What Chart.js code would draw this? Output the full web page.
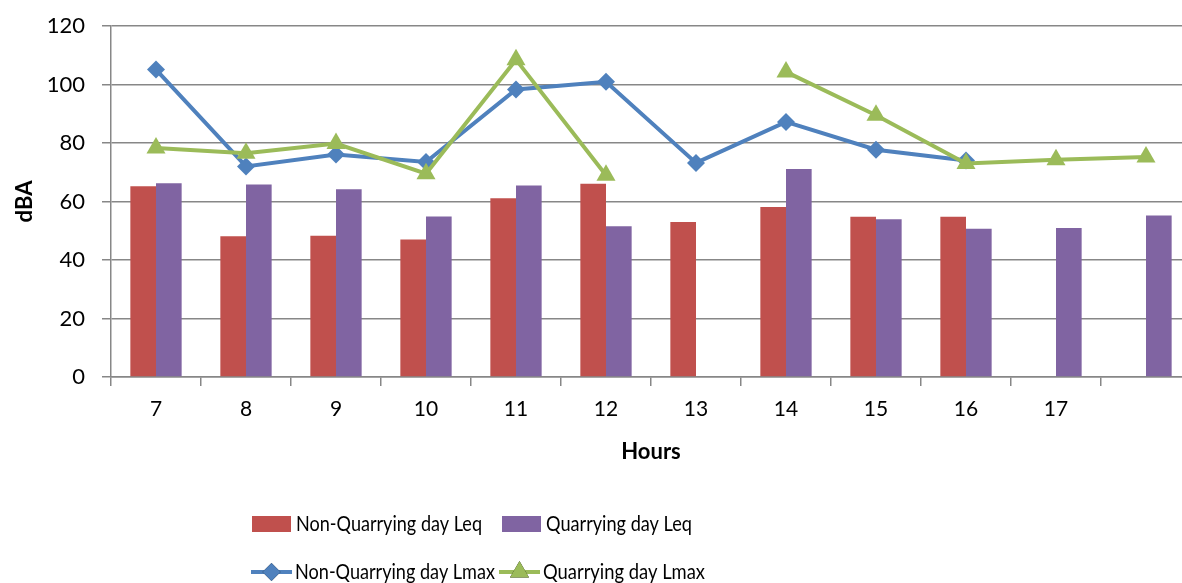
<!DOCTYPE html>
<html>
<head>
<meta charset="utf-8">
<script src="https://cdn.jsdelivr.net/npm/chart.js@4"></script>
<style>
  html, body { margin: 0; padding: 0; background: #fff; overflow: hidden; }
  #wrap { width: 1202px; height: 583px; }
</style>
</head>
<body>
<div id="wrap"><canvas id="noiseChart"></canvas></div>
<script>
// hourly noise levels, dBA
const hours = ['7', '8', '9', '10', '11', '12', '13', '14', '15', '16', '17', ''];
const nonQuarryLeq = [65.2, 48.1, 48.3, 47.0, 61.1, 66.1, 53.0, 58.1, 54.8, 54.8, null, null];
const quarryLeq = [66.2, 65.8, 64.2, 54.9, 65.5, 51.5, null, 71.1, 53.9, 50.7, 50.9, 55.2];
const nonQuarryLmax = [105.1, 72.0, 76.1, 73.5, 98.3, 100.9, 73.2, 87.2, 77.7, 74.0, null, null];
const quarryLmax = [78.3, 76.5, 79.8, 69.5, 108.5, 69.0, null, 104.3, 89.5, 73.0, 74.3, 75.2];
const yTicks = [0, 20, 40, 60, 80, 100, 120];

const RED = '#C0504D';
const PURPLE = '#8064A2';
const BLUE = '#4F81BD';
const GREEN = '#9BBB59';
const GRID = '#878787';
const FONT = 'Lato, "Open Sans", sans-serif';

// two-row legend under the axis
const legendRows = {
  id: 'legendRows',
  afterDraw(chart, args, opts) {
    const ctx = chart.ctx;
    ctx.save();
    ctx.font = opts.font;
    ctx.textBaseline = 'middle';
    opts.items.forEach(item => {
      const ds = chart.data.datasets[item.dataset];
      if (ds.type === 'line') {
        ctx.strokeStyle = ds.borderColor;
        ctx.lineWidth = ds.borderWidth;
        ctx.beginPath();
        ctx.moveTo(item.x, item.y);
        ctx.lineTo(item.x + 41, item.y);
        ctx.stroke();
        Chart.helpers.drawPoint(ctx, {
          pointStyle: ds.pointStyle,
          radius: ds.pointRadius,
          rotation: 0,
          borderWidth: 0
        }, item.x + 20.5, item.y);
        ctx.fillStyle = ds.pointBackgroundColor;
        ctx.fill();
      } else {
        ctx.fillStyle = ds.backgroundColor;
        ctx.fillRect(item.x, item.y - 8, 39, 16);
      }
      ctx.fillStyle = '#000';
      ctx.fillText(ds.label, item.x + 44, item.y, item.w);
    });
    ctx.restore();
  }
};

new Chart(document.getElementById('noiseChart'), {
  data: {
    labels: hours,
    datasets: [
      {
        type: 'bar',
        label: 'Non-Quarrying day Leq',
        data: nonQuarryLeq,
        backgroundColor: RED,
        barPercentage: 1,
        categoryPercentage: 0.57,
        order: 3
      },
      {
        type: 'bar',
        label: 'Quarrying day Leq',
        data: quarryLeq,
        backgroundColor: PURPLE,
        barPercentage: 1,
        categoryPercentage: 0.57,
        order: 3
      },
      {
        type: 'line',
        label: 'Non-Quarrying day Lmax',
        data: nonQuarryLmax,
        borderColor: BLUE,
        borderWidth: 4,
        pointStyle: 'rectRot',
        pointRadius: 9,
        pointBackgroundColor: BLUE,
        pointBorderWidth: 0,
        spanGaps: false,
        tension: 0,
        order: 2
      },
      {
        type: 'line',
        label: 'Quarrying day Lmax',
        data: quarryLmax,
        borderColor: GREEN,
        borderWidth: 4,
        pointStyle: 'triangle',
        pointRadius: 11,
        pointBackgroundColor: GREEN,
        pointBorderWidth: 0,
        spanGaps: false,
        tension: 0,
        order: 1
      }
    ]
  },
  options: {
    responsive: true,
    maintainAspectRatio: false,
    animation: false,
    layout: {
      padding: { top: 26, right: 5, bottom: 111, left: 0 }
    },
    plugins: {
      legend: { display: false },
      tooltip: { enabled: false },
      legendRows: {
        font: '21px ' + FONT,
        items: [
          { dataset: 0, x: 252, y: 524, w: 186 },
          { dataset: 1, x: 502, y: 524, w: 146 },
          { dataset: 2, x: 251, y: 572, w: 200 },
          { dataset: 3, x: 499, y: 572, w: 162 }
        ]
      }
    },
    scales: {
      x: {
        offset: true,
        grid: {
          offset: true,
          drawOnChartArea: false,
          drawTicks: true,
          tickLength: 9,
          color: GRID,
          lineWidth: 1.5
        },
        border: { color: GRID, width: 1.5 },
        ticks: {
          color: '#000',
          padding: 11,
          maxRotation: 0,
          autoSkip: false,
          font: { family: FONT, size: 21 }
        },
        title: {
          display: true,
          text: 'Hours',
          color: '#000',
          padding: { top: 0, bottom: 7 },
          font: { family: FONT, size: 22, weight: 'bold' }
        },
        afterFit(scale) { scale.height = 95; }
      },
      y: {
        min: 0,
        max: 120,
        afterBuildTicks(scale) { scale.ticks = yTicks.map(v => ({ value: v })); },
        grid: {
          color: GRID,
          lineWidth: 1.5,
          tickLength: 9
        },
        border: { color: GRID, width: 1.5 },
        ticks: {
          color: '#000',
          padding: 17,
          font: { family: FONT, size: 22 }
        },
        title: {
          display: true,
          text: 'dBA',
          color: '#000',
          padding: { top: 12, bottom: 0 },
          font: { family: FONT, size: 22, weight: 'bold' }
        },
        afterFit(scale) {
          scale.width = 111;
          // let the layout padding alone decide where the plot starts
          scale.paddingTop = 0;
          scale.paddingBottom = 0;
        }
      }
    }
  },
  plugins: [legendRows]
});
</script>
</body>
</html>
